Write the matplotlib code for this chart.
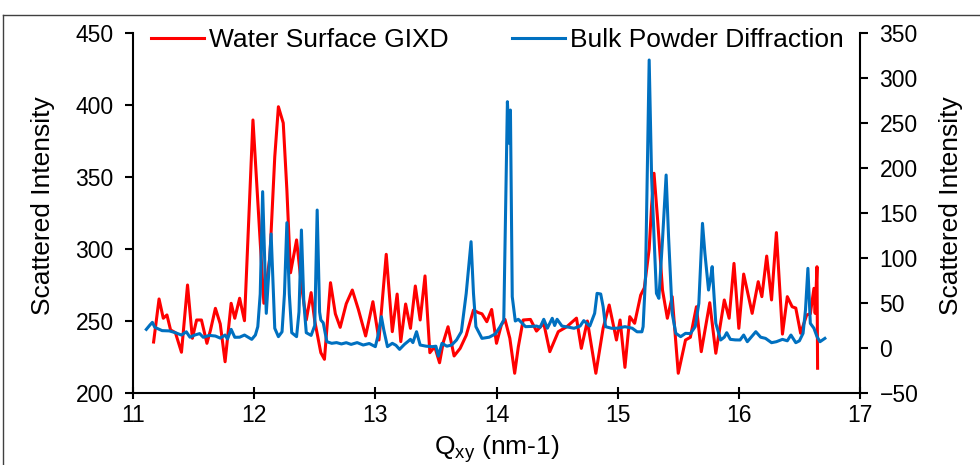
import matplotlib
matplotlib.use("Agg")
import matplotlib.pyplot as plt
from matplotlib.lines import Line2D

plt.rcParams['font.family'] = ['Liberation Sans', 'DejaVu Sans']

# Water Surface GIXD (left axis)
gixd_q = [11.17, 11.215, 11.25, 11.28, 11.31, 11.35, 11.40, 11.45, 11.49, 11.525, 11.565, 11.61, 11.64,
          11.68, 11.72, 11.76, 11.81, 11.84, 11.88, 11.92, 11.96, 11.99, 12.035, 12.08, 12.13, 12.17,
          12.20, 12.24, 12.27, 12.30, 12.35, 12.39, 12.43, 12.47, 12.50, 12.55, 12.58, 12.63, 12.67,
          12.71, 12.76, 12.81, 12.86, 12.92, 12.98, 13.03, 13.09, 13.14, 13.18, 13.21, 13.25, 13.29,
          13.33, 13.37, 13.41, 13.45, 13.49, 13.53, 13.56, 13.60, 13.65, 13.70, 13.75, 13.81, 13.85,
          13.88, 13.92, 13.96, 14.00, 14.04, 14.07, 14.11, 14.15, 14.18, 14.22, 14.28, 14.33, 14.39,
          14.44, 14.51, 14.58, 14.66, 14.70, 14.75, 14.82, 14.88, 14.93, 14.99, 15.02, 15.06, 15.10,
          15.14, 15.19, 15.22, 15.26, 15.28, 15.30, 15.33, 15.37, 15.41, 15.45, 15.50, 15.56, 15.60,
          15.65, 15.69, 15.76, 15.81, 15.88, 15.92, 15.96, 16.00, 16.04, 16.11, 16.16, 16.19, 16.23,
          16.27, 16.31, 16.36, 16.40, 16.44, 16.47, 16.51, 16.56, 16.59, 16.62, 16.63, 16.645, 16.65]
gixd_i = [235.4, 265.3, 251.9, 254.2, 243.8, 241.9, 228.3, 275.0, 238.0, 250.7, 250.7, 234.5, 243.8,
          258.8, 248.0, 221.7, 262.3, 251.9, 265.8, 250.2, 330.0, 389.6, 326.0, 262.3, 294.7, 364.0,
          398.8, 387.5, 341.0, 283.5, 306.3, 275.0, 250.7, 269.7, 250.0, 228.0, 223.4, 276.6, 255.0,
          245.6, 262.0, 271.5, 258.0, 239.6, 263.4, 236.8, 296.3, 242.6, 268.7, 235.7, 261.8, 244.9,
          274.3, 250.7, 281.3, 228.0, 232.2, 221.0, 235.0, 246.0, 225.7, 231.0, 240.0, 257.6, 255.8,
          255.0, 249.5, 258.0, 234.5, 247.2, 251.1, 238.0, 213.7, 232.0, 250.7, 251.1, 243.0, 248.4,
          228.7, 242.6, 246.0, 252.0, 231.0, 250.0, 213.7, 245.0, 261.1, 236.8, 250.7, 217.8, 253.0,
          248.4, 268.0, 273.0, 300.0, 330.0, 352.6, 320.0, 271.5, 251.9, 266.9, 213.7, 236.8, 238.7,
          259.9, 228.7, 262.7, 227.6, 264.6, 251.9, 290.0, 244.9, 282.6, 255.3, 277.3, 266.9, 295.1,
          264.6, 311.4, 240.9, 266.9, 259.9, 259.0, 241.5, 254.2, 255.0, 272.7, 255.3, 287.7, 217.2]

# Bulk Powder Diffraction (right axis)
bulk_q = [11.11, 11.14, 11.16, 11.18, 11.24, 11.30, 11.35, 11.40, 11.44, 11.47, 11.51, 11.55, 11.58,
          11.63, 11.68, 11.72, 11.76, 11.78, 11.81, 11.84, 11.88, 11.92, 11.95, 11.98, 12.01, 12.03,
          12.05, 12.07, 12.10, 12.14, 12.17, 12.20, 12.23, 12.25, 12.27, 12.29, 12.31, 12.35, 12.37,
          12.39, 12.41, 12.43, 12.47, 12.50, 12.52, 12.54, 12.55, 12.57, 12.60, 12.64, 12.68, 12.72,
          12.76, 12.80, 12.85, 12.90, 12.95, 13.00, 13.02, 13.05, 13.07, 13.10, 13.14, 13.17, 13.20,
          13.24, 13.29, 13.31, 13.34, 13.37, 13.42, 13.47, 13.50, 13.52, 13.55, 13.59, 13.63, 13.67,
          13.71, 13.75, 13.79, 13.81, 13.83, 13.88, 13.94, 13.99, 14.03, 14.06, 14.09, 14.105, 14.115,
          14.13, 14.155, 14.18, 14.24, 14.29, 14.33, 14.36, 14.39, 14.42, 14.46, 14.48, 14.50, 14.54,
          14.60, 14.64, 14.69, 14.72, 14.77, 14.81, 14.83, 14.86, 14.88, 14.90, 14.95, 15.00, 15.06,
          15.12, 15.16, 15.20, 15.21, 15.23, 15.26, 15.28, 15.30, 15.32, 15.34, 15.37, 15.40, 15.42,
          15.45, 15.48, 15.52, 15.56, 15.60, 15.64, 15.67, 15.70, 15.72, 15.75, 15.77, 15.78, 15.81,
          15.85, 15.88, 15.90, 15.93, 15.97, 16.01, 16.04, 16.07, 16.14, 16.18, 16.22, 16.27, 16.31,
          16.36, 16.40, 16.43, 16.47, 16.50, 16.53, 16.55, 16.57, 16.59, 16.62, 16.645, 16.67, 16.71]
bulk_i = [20.7, 25.6, 28.5, 23.0, 19.3, 19.0, 17.0, 14.4, 18.0, 12.0, 14.4, 16.0, 11.9,
          14.0, 13.3, 11.0, 14.4, 10.0, 20.7, 11.9, 12.0, 14.4, 12.0, 9.6, 14.4, 23.7,
          60.0, 173.7, 38.5, 126.7, 21.9, 12.6, 18.0, 60.0, 139.2, 60.0, 17.0, 12.6, 40.0,
          131.1, 50.0, 17.0, 14.0, 25.0, 153.3, 40.0, 31.1, 28.0, 7.0, 5.2, 6.0, 4.5,
          5.9, 4.0, 6.0, 3.3, 5.0, 1.5, 12.6, 34.8, 20.0, 1.5, 5.2, 3.0, -1.5,
          4.0, 9.6, 6.0, 18.1, 3.3, 2.0, 1.5, 2.0, -9.0, 5.2, 2.0, 3.3, 8.9,
          18.1, 60.7, 118.1, 60.7, 23.7, 10.7, 12.0, 15.6, 23.7, 31.1, 273.7, 227.4, 264.4,
          57.0, 30.0, 31.9, 23.7, 24.0, 24.4, 23.0, 31.9, 22.0, 33.0, 25.0, 31.9, 24.4,
          23.0, 21.9, 24.4, 30.4, 24.4, 38.5, 60.7, 60.0, 45.9, 23.7, 21.9, 22.0, 23.7,
          22.0, 18.0, 18.0, 23.7, 79.3, 320.0, 190.4, 123.7, 60.7, 55.2, 120.0, 192.2, 123.7,
          38.5, 16.3, 12.6, 16.3, 16.0, 23.7, 49.7, 138.5, 105.2, 64.4, 80.0, 90.4, 27.4,
          8.9, 12.0, 17.0, 9.6, 9.0, 8.9, 14.4, 7.0, 18.1, 12.0, 10.7, 5.9, 7.0,
          9.6, 8.0, 14.4, 5.9, 8.0, 16.3, 42.2, 88.5, 27.4, 21.9, 12.6, 7.0, 10.7]

x_ticks = [11, 12, 13, 14, 15, 16, 17]
left_ticks = [200, 250, 300, 350, 400, 450]
right_ticks = [-50, 0, 50, 100, 150, 200, 250, 300, 350]

RED = '#FF0000'
BLUE = '#0070C0'
TICK_FS = 16.5
LABEL_FS = 19

fig = plt.figure(figsize=(9.8, 4.65), dpi=100)
ax = fig.add_axes([133/980, 1 - 393/465, (860 - 133)/980, (393 - 33)/465])
ax2 = ax.twinx()

l1, = ax.plot(gixd_q, gixd_i, color=RED, lw=2.2, solid_joinstyle='round')
l2, = ax2.plot(bulk_q, bulk_i, color=BLUE, lw=2.2, solid_joinstyle='round')

ax.set_xlim(11, 17)
ax.set_ylim(200, 450)
ax2.set_ylim(-50, 350)
ax.set_xticks(x_ticks)
ax.set_yticks(left_ticks)
ax2.set_yticks(right_ticks)

for a in (ax, ax2):
    a.spines['top'].set_visible(False)
    for s in a.spines.values():
        s.set_linewidth(1.5)
        s.set_color('black')
ax.spines['right'].set_visible(False)
ax2.spines['left'].set_visible(False)
ax2.spines['bottom'].set_visible(False)

ax.tick_params(axis='x', direction='inout', length=8, width=1.5, labelsize=TICK_FS, pad=4)
ax.tick_params(axis='y', direction='out', length=6, width=1.5, labelsize=TICK_FS, pad=8)
ax2.tick_params(axis='y', direction='out', length=6, width=1.5, labelsize=TICK_FS, pad=8)

ax.set_xlabel(r'Q$_{\mathregular{xy}}$ (nm-1)', fontsize=LABEL_FS)
ax.xaxis.set_label_coords(0.5, -0.11)
ax.set_ylabel('Scattered Intensity', fontsize=LABEL_FS)
ax.yaxis.set_label_coords(-0.107, 0.52)
ax2.set_ylabel('Scattered Intensity', fontsize=LABEL_FS)
ax2.yaxis.set_label_coords(1.109, 0.52)

fig.legend([l1, l2], ['Water Surface GIXD', 'Bulk Powder Diffraction'],
           loc='center left', bbox_to_anchor=(138/980, 1 - 40/465), ncol=2,
           frameon=False, fontsize=LABEL_FS, borderpad=0, handlelength=2.0,
           handletextpad=0.2, columnspacing=2.4)

# chart-area border
fig.add_artist(Line2D([3/980, 1.0], [1 - 15/465, 1 - 15/465], transform=fig.transFigure,
                      color='#404040', lw=1))
fig.add_artist(Line2D([3/980, 3/980], [0, 1 - 15/465], transform=fig.transFigure,
                      color='#404040', lw=1))

fig.savefig('out.png', dpi=100)
